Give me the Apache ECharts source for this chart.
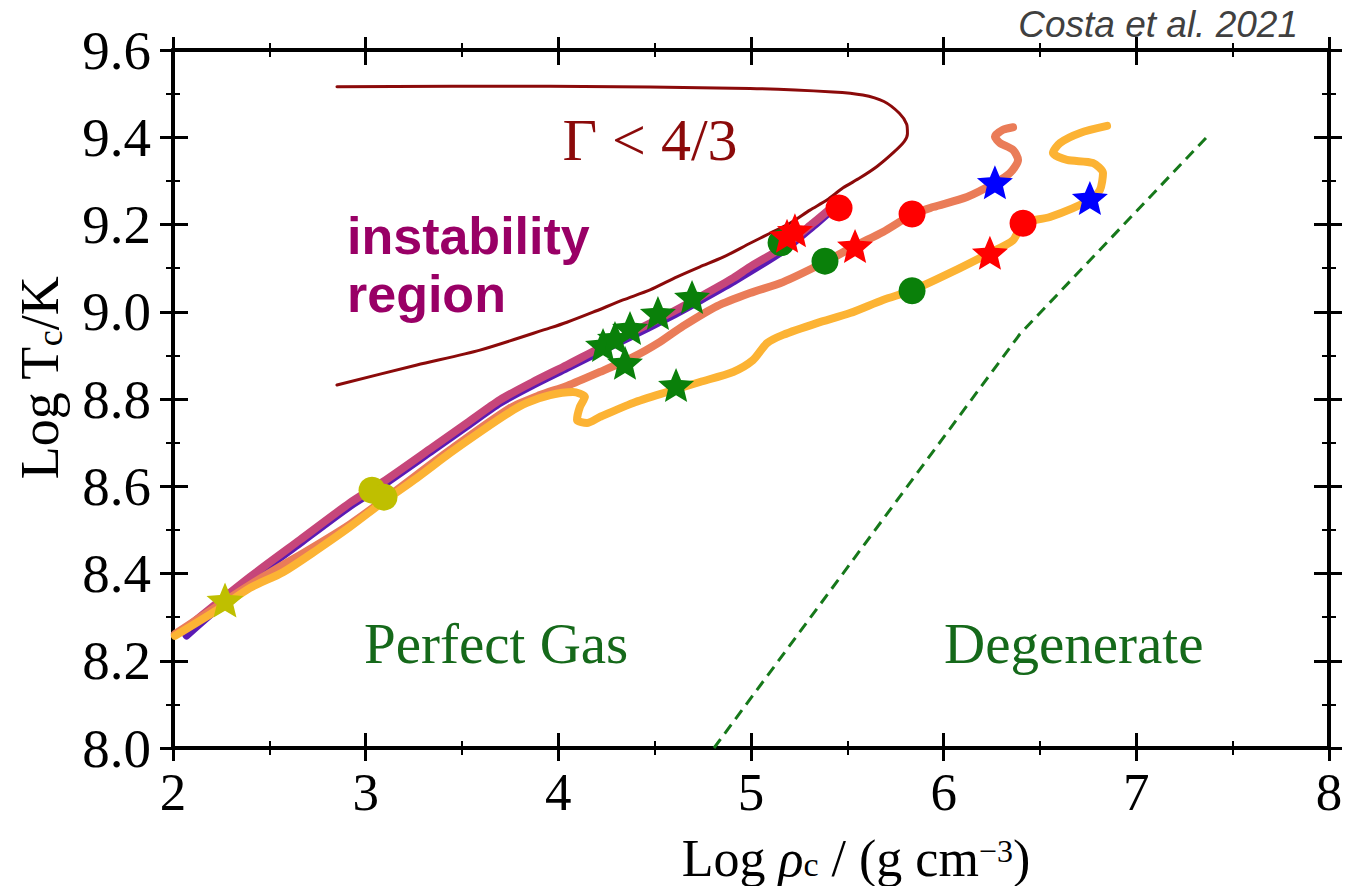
<!DOCTYPE html>
<html>
<head>
<meta charset="utf-8">
<script src="https://cdn.jsdelivr.net/npm/echarts@6/dist/echarts.min.js"></script>
<style>
  html, body { margin: 0; padding: 0; background: #fff; }
  #chart { width: 1351px; height: 886px; }
</style>
</head>
<body>
<div id="chart"></div>
<script>
// Axis ticks
const xTicks = [2, 3, 4, 5, 6, 7, 8];
const yTicks = [8.0, 8.2, 8.4, 8.6, 8.8, 9.0, 9.2, 9.4, 9.6];

// Gamma < 4/3 boundary: [log rho_c, log T_c]
const gammaCurve = [
  [2.851, 9.516], [3.957, 9.517], [4.995, 9.512], [5.426, 9.504], [5.580, 9.497],
  [5.690, 9.482], [5.770, 9.455], [5.808, 9.430], [5.812, 9.408], [5.795, 9.390],
  [5.737, 9.364], [5.654, 9.333], [5.566, 9.307], [5.478, 9.284], [5.394, 9.256],
  [5.306, 9.233], [5.202, 9.203], [5.099, 9.180], [4.995, 9.157], [4.855, 9.125],
  [4.735, 9.103], [4.616, 9.080], [4.476, 9.050], [4.336, 9.027], [4.180, 8.999],
  [4.045, 8.976], [3.957, 8.963], [3.593, 8.912], [3.266, 8.878], [2.851, 8.832]
];

// Perfect gas / degenerate boundary
const degenerateLine = [[4.808, 8.000], [6.396, 8.949], [7.367, 9.401]];

// Evolutionary tracks
const trackViolet = [
  [2.07, 8.258], [2.40, 8.384], [2.659, 8.470], [2.919, 8.555], [3.090, 8.603],
  [3.349, 8.683], [3.526, 8.738], [3.697, 8.791], [3.868, 8.832], [4.045, 8.871],
  [4.216, 8.909], [4.388, 8.946], [4.564, 8.985], [4.735, 9.026], [4.907, 9.069],
  [5.166, 9.140], [5.322, 9.196], [5.430, 9.238]
];
const trackMagenta = [
  [2.050, 8.268], [2.400, 8.392], [2.659, 8.477], [2.919, 8.562], [3.090, 8.610],
  [3.349, 8.690], [3.526, 8.745], [3.697, 8.798], [3.868, 8.839], [4.045, 8.878],
  [4.216, 8.917], [4.388, 8.954], [4.564, 8.993], [4.735, 9.034], [4.907, 9.077],
  [4.995, 9.103], [5.166, 9.148], [5.322, 9.203], [5.436, 9.245]
];
const trackSalmon = [
  [2.010, 8.261], [2.400, 8.374], [2.919, 8.513], [3.438, 8.683], [3.749, 8.779],
  [3.905, 8.809], [4.045, 8.830], [4.216, 8.862], [4.388, 8.896], [4.528, 8.931],
  [4.647, 8.967], [4.824, 9.013], [4.995, 9.043], [5.166, 9.068], [5.384, 9.114],
  [5.540, 9.151], [5.685, 9.183], [5.841, 9.224], [5.945, 9.240], [6.121, 9.263],
  [6.266, 9.295], [6.344, 9.318], [6.386, 9.348], [6.360, 9.371], [6.292, 9.387],
  [6.266, 9.401], [6.308, 9.417], [6.360, 9.423]
];
const trackOrange = [
  [2.010, 8.257], [2.228, 8.316], [2.400, 8.367], [2.571, 8.403], [2.747, 8.454],
  [2.919, 8.507], [3.090, 8.564], [3.266, 8.619], [3.438, 8.676], [3.609, 8.729],
  [3.749, 8.770], [3.837, 8.791], [3.957, 8.809], [4.076, 8.816], [4.138, 8.805],
  [4.112, 8.782], [4.097, 8.752], [4.149, 8.745], [4.216, 8.759], [4.388, 8.791],
  [4.564, 8.816], [4.735, 8.839], [4.907, 8.862], [5.010, 8.889], [5.083, 8.928],
  [5.166, 8.947], [5.342, 8.974], [5.514, 8.997], [5.685, 9.027], [5.841, 9.050],
  [6.033, 9.089], [6.240, 9.135], [6.360, 9.164], [6.412, 9.203], [6.552, 9.217],
  [6.759, 9.256], [6.811, 9.279], [6.827, 9.318], [6.775, 9.341], [6.640, 9.348],
  [6.567, 9.364], [6.604, 9.387], [6.708, 9.410], [6.848, 9.426]
];

// Phase markers
const oliveStars = [[2.270, 8.339]];
const oliveCircles = [[3.033, 8.591], [3.095, 8.575]];
const greenStars = [
  [4.232, 8.924], [4.294, 8.940], [4.372, 8.963], [4.517, 8.997], [4.694, 9.034],
  [4.346, 8.883], [4.611, 8.832]
];
const greenCircles = [[5.156, 9.158], [5.384, 9.116], [5.836, 9.048]];
const redCircles = [[5.457, 9.238], [5.836, 9.224], [6.412, 9.203]];
const redStars = [[5.187, 9.174], [5.228, 9.187], [5.540, 9.151], [6.240, 9.135]];
const blueStars = [[6.266, 9.297], [6.759, 9.261]];

// Five-pointed star marker (inner/outer radius ratio 0.45)
const STAR = 'path://M50,0 L63.2,31.8 L97.55,34.55 L71.4,57 L79.39,90.45 L50,72.5 L20.61,90.45 L28.6,57 L2.45,34.55 L36.8,31.8 Z';
const SERIF = '"Liberation Serif", "DejaVu Serif", serif';
const SANS = '"Liberation Sans", Arial, sans-serif';

function makeAxis(kind, position, inside, withLabels) {
  const ticks = kind === 'x' ? xTicks : yTicks;
  return {
    type: 'value',
    position: position,
    min: ticks[0],
    max: ticks[ticks.length - 1],
    interval: ticks[1] - ticks[0],
    splitLine: { show: false },
    axisLine: { show: true, onZero: false, lineStyle: { color: '#000', width: 4 } },
    axisTick: { show: true, inside: inside, length: inside ? 15 : 13, lineStyle: { color: '#000', width: 3 } },
    minorTick: { show: true, splitNumber: 2, length: 7, lineStyle: { color: '#000', width: 2 } },
    axisLabel: {
      show: withLabels,
      fontFamily: SERIF,
      fontSize: kind === 'x' ? 53 : 55,
      lineHeight: kind === 'x' ? 44 : 55,
      color: '#000',
      margin: 22,
      showMinLabel: true,
      showMaxLabel: true,
      formatter: kind === 'x' ? (v) => String(Math.round(v)) : (v) => v.toFixed(1)
    }
  };
}

function lineSeries(data, color, width, z, extra) {
  return Object.assign({
    type: 'line',
    data: data,
    showSymbol: false,
    symbol: 'none',
    smooth: 0.25,
    silent: true,
    z: z,
    lineStyle: { color: color, width: width, cap: 'round', join: 'round' }
  }, extra || {});
}

function markerSeries(data, symbol, size, color, z) {
  return {
    type: 'scatter',
    data: data,
    symbol: symbol,
    symbolSize: size,
    itemStyle: { color: color, opacity: 1 },
    silent: true,
    z: z
  };
}

const chart = echarts.init(document.getElementById('chart'), null, { renderer: 'svg' });

chart.setOption({
  animation: false,
  backgroundColor: '#fff',
  grid: { left: 173, right: 22, top: 50, bottom: 138, containLabel: false },
  xAxis: [
    makeAxis('x', 'bottom', false, true),
    makeAxis('x', 'bottom', true, false),
    makeAxis('x', 'top', false, false),
    makeAxis('x', 'top', true, false)
  ],
  yAxis: [
    makeAxis('y', 'left', false, true),
    makeAxis('y', 'left', true, false),
    makeAxis('y', 'right', false, false),
    makeAxis('y', 'right', true, false)
  ],
  series: [
    lineSeries(gammaCurve, '#8b0a0a', 3, 2),
    lineSeries(degenerateLine, '#16781a', 3, 2, { smooth: false, lineStyle: { color: '#16781a', width: 3, type: [11, 7] } }),
    lineSeries(trackViolet, '#5a1ab4', 8, 3),
    lineSeries(trackMagenta, '#c6467a', 8, 4),
    lineSeries(trackSalmon, '#ea7c58', 8, 5),
    lineSeries(trackOrange, '#fcb334', 8, 6),
    markerSeries(oliveStars, STAR, [37, 35], '#bfbf00', 10),
    markerSeries(oliveCircles, 'circle', 27, '#bfbf00', 10),
    markerSeries(greenStars, STAR, [36, 34], '#0a800a', 10),
    markerSeries(greenCircles, 'circle', 27, '#0a800a', 10),
    markerSeries(redCircles, 'circle', 27, '#ff0000', 11),
    markerSeries(redStars, STAR, [36, 34], '#ff0000', 11),
    markerSeries(blueStars, STAR, [36, 34], '#0000ff', 11)
  ],
  graphic: [
    {
      type: 'text', x: 1298, y: 24, z: 20,
      style: { text: 'Costa et al. 2021', font: 'italic 37px ' + SANS, fill: '#404040', align: 'right', verticalAlign: 'middle' }
    },
    {
      type: 'text', x: 347, y: 265, z: 20,
      style: { text: 'instability\nregion', font: 'bold 52px ' + SANS, fill: '#990066', align: 'left', verticalAlign: 'middle', lineHeight: 58 }
    },
    {
      type: 'text', x: 650, y: 140, z: 20,
      style: { text: 'Γ < 4/3', font: '60px ' + SERIF, fill: '#8b0a0a', align: 'center', verticalAlign: 'middle' }
    },
    {
      type: 'text', x: 364, y: 643, z: 20,
      style: { text: 'Perfect Gas', font: '57px ' + SERIF, fill: '#15691a', align: 'left', verticalAlign: 'middle' }
    },
    {
      type: 'text', x: 944, y: 643, z: 20,
      style: { text: 'Degenerate', font: '57px ' + SERIF, fill: '#15691a', align: 'left', verticalAlign: 'middle' }
    },
    {
      type: 'text', x: 856, y: 858, z: 20,
      style: {
        text: '{n|Log }{i|ρ}{s|c}{n| / (g cm}{p|−3}{n|)}',
        align: 'center', verticalAlign: 'middle',
        rich: {
          n: { fontFamily: SERIF, fontSize: 52, lineHeight: 46, fill: '#000', verticalAlign: 'middle' },
          i: { fontFamily: SERIF, fontSize: 52, fontStyle: 'italic', lineHeight: 46, fill: '#000', verticalAlign: 'middle' },
          s: { fontFamily: SERIF, fontSize: 34, lineHeight: 14, fill: '#000', verticalAlign: 'bottom' },
          p: { fontFamily: SERIF, fontSize: 32, lineHeight: 30, fill: '#000', verticalAlign: 'top' }
        }
      }
    },
    {
      type: 'text', x: 40, y: 378, z: 20, rotation: Math.PI / 2,
      style: {
        text: '{n|Log T}{s|c}{n|/K}',
        align: 'center', verticalAlign: 'middle',
        rich: {
          n: { fontFamily: SERIF, fontSize: 54, lineHeight: 56, fill: '#000', verticalAlign: 'middle' },
          s: { fontFamily: SERIF, fontSize: 36, lineHeight: 34, fill: '#000', verticalAlign: 'bottom' }
        }
      }
    }
  ]
});
</script>
</body>
</html>
